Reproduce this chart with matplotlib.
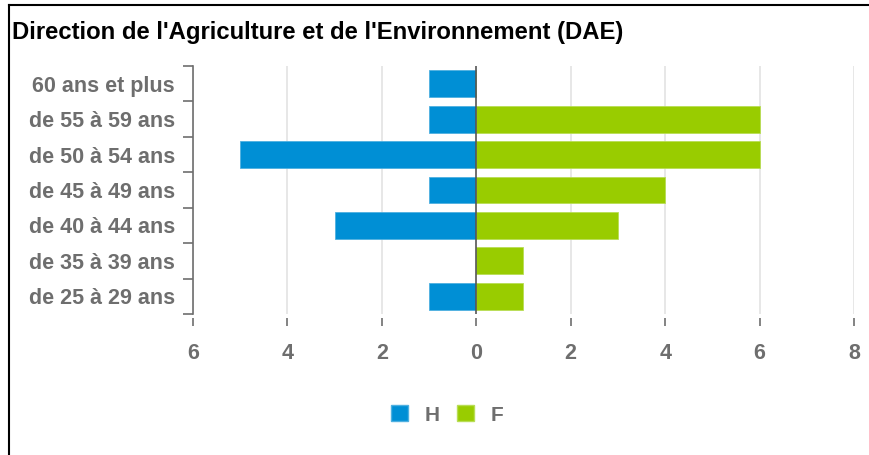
import matplotlib.pyplot as plt
from matplotlib.lines import Line2D
from matplotlib.patches import Patch

# age groups, bottom to top
ages = ["de 25 à 29 ans", "de 35 à 39 ans", "de 40 à 44 ans", "de 45 à 49 ans",
        "de 50 à 54 ans", "de 55 à 59 ans", "60 ans et plus"]
hommes = [1, 0, 3, 1, 5, 1, 1]
femmes = [1, 1, 3, 4, 6, 6, 0]
xticks = [-6, -4, -2, 0, 2, 4, 6, 8]
xtick_labels = ["6", "4", "2", "0", "2", "4", "6", "8"]

blue = "#008fd5"
green = "#99cc00"
grey = "#6e6e6e"

plt.rcParams["font.family"] = ["Liberation Sans", "DejaVu Sans"]

fig = plt.figure(figsize=(8.69, 4.55), dpi=100)
ax = fig.add_axes([193 / 869, 1 - 314 / 455, 661 / 869, 248 / 455])

# spine offset first, it resets tick styling
for side in ["top", "right"]:
    ax.spines[side].set_visible(False)
ax.spines["bottom"].set_position(("outward", 3))
ax.spines["bottom"].set_visible(False)
ax.spines["left"].set_color(grey)
ax.spines["left"].set_linewidth(1.2)

y = range(len(ages))
ax.barh(y, [-v for v in hommes], height=0.76, color=blue, edgecolor="#4fb0e0", linewidth=0.6, zorder=3)
ax.barh(y, femmes, height=0.76, color=green, edgecolor="#b8dd55", linewidth=0.6, zorder=3)

ax.set_xlim(-6, 8)
ax.set_ylim(-0.5, len(ages) - 0.5)
ax.set_xticks(xticks)
ax.set_xticklabels(xtick_labels, fontsize=15.5, fontweight="bold", color=grey)

for x in xticks:
    if x != 0:
        ax.axvline(x, color="#e3e3e3", linewidth=1.2, zorder=1)
ax.axvline(0, color="#555555", linewidth=1.2, zorder=4)

# category labels without ticks, boundary ticks as minor ticks
ax.set_yticks(list(y))
ax.set_yticklabels(ages, fontsize=15.5, fontweight="bold", color=grey)
ax.tick_params(axis="y", which="major", length=0, pad=13)
ax.set_yticks([i - 0.5 for i in range(len(ages) + 1)], minor=True)
ax.tick_params(axis="y", which="minor", length=7, width=1.2, color=grey)
ax.tick_params(axis="x", length=6, width=1.2, color=grey, pad=12, direction="out")

fig.text(12 / 869, 1 - 33 / 455, "Direction de l'Agriculture et de l'Environnement (DAE)",
         fontsize=17.2, fontweight="bold", color="black", va="center", ha="left")

handles = [Patch(facecolor=blue, edgecolor="#4fb0e0"), Patch(facecolor=green, edgecolor="#b8dd55")]
leg = fig.legend(handles, ["H", "F"], loc="center", bbox_to_anchor=(447 / 869, 1 - 415 / 455),
                 ncol=2, frameon=False, handlelength=0.8, handleheight=0.8,
                 handletextpad=0.8, columnspacing=0.85, prop={"size": 15, "weight": "bold"})
for txt in leg.get_texts():
    txt.set_color(grey)

# outer frame (left and top edges)
fig.add_artist(Line2D([9 / 869, 9 / 869], [0, 1 - 5 / 455], color="black", linewidth=1.5))
fig.add_artist(Line2D([9 / 869, 1], [1 - 5 / 455, 1 - 5 / 455], color="black", linewidth=1.5))

fig.savefig("out.png", dpi=100)
